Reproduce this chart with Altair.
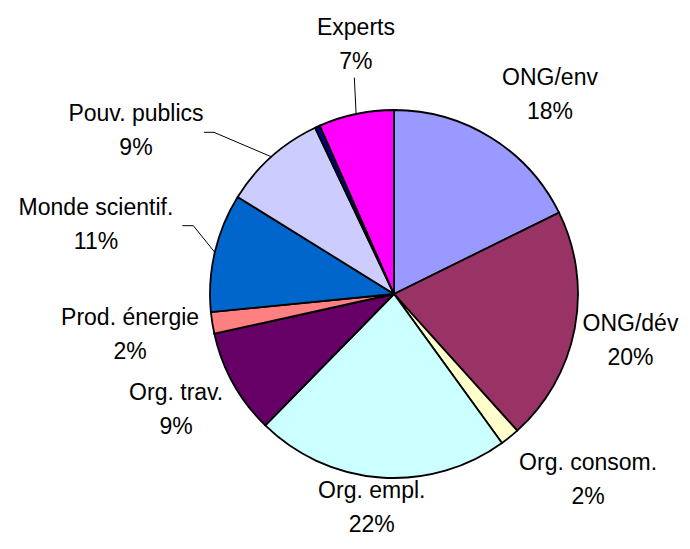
import altair as alt
import pandas as pd

# ---- data ----
categories = ["ONG/env", "ONG/dév", "Org. consom.", "Org. empl.", "Org. trav.",
              "Prod. énergie", "Monde scientif.", "Pouv. publics", "Autres", "Experts"]
shares = [17.7, 20.6, 1.7, 22.3, 9.2, 1.9, 10.4, 9.1, 0.45, 6.6]
pct_labels = ["18%", "20%", "2%", "22%", "9%", "2%", "11%", "9%", "", "7%"]

# ---- style / layout (not data) ----
colors = ["#9999FF", "#993366", "#FFFFCC", "#CCFFFF", "#660066",
          "#FF8080", "#0066CC", "#CCCCFF", "#000080", "#FF00FF"]
label_r = [253, 241, 269, 215, 247, 267, 306, 305, 0, 252]        # label distance from centre
label_nudge = [6.2, 0.3, -7.2, 1.7, 0.9, 0.3, 0.0, -16.0, 0.0, 3.2]  # degrees
leader_r = [0, 0, 0, 0, 0, 0, 212, 242, 0, 220]
leader_nudge = [0, 0, 0, 0, 0, 0, 5.7, -6.3, 0, 1.5]
leader_tick = [0, 0, 0, 0, 0, 0, -11, -10, 0, 0]

CX, CY, R = 386, 286, 184

df = pd.DataFrame({
    "idx": list(range(len(categories))),
    "cat": categories,
    "share": shares,
    "label": [c + "\n" + p if p else "" for c, p in zip(categories, pct_labels)],
    "lr": label_r, "ln": label_nudge,
    "er": leader_r, "en": leader_nudge, "tick": leader_tick,
})

base = alt.Chart(df)

pie = base.mark_arc(radius=R, stroke="black", strokeWidth=1.8).encode(
    theta=alt.Theta("share:Q", stack=True),
    color=alt.Color("cat:N", scale=alt.Scale(domain=categories, range=colors), legend=None),
    order=alt.Order("idx:Q"),
    x=alt.value(CX), y=alt.value(CY),
)

geo = (base
       .transform_window(cum="sum(share)", sort=[alt.SortField("idx")], frame=[None, 0])
       .transform_joinaggregate(total="sum(share)")
       .transform_calculate(mid="(datum.cum - datum.share/2) / datum.total * 2 * PI"))

labels = (geo
          .transform_filter("datum.lr > 0")
          .transform_calculate(la="datum.mid + datum.ln * PI / 180")
          .transform_calculate(lx=f"{CX} + datum.lr * sin(datum.la)",
                               ly=f"{CY} - datum.lr * cos(datum.la)")
          .mark_text(font="Liberation Sans", fontSize=23, lineBreak="\n", lineHeight=34,
                     align="center", baseline="middle", color="black", dy=-17)
          .encode(x=alt.X("lx:Q", scale=None, axis=None),
                  y=alt.Y("ly:Q", scale=None, axis=None),
                  text="label:N"))

lead = (geo
        .transform_filter("datum.er > 0")
        .transform_calculate(ba="datum.mid + datum.en * PI / 180")
        .transform_calculate(ex=f"{CX} + {R} * sin(datum.mid)",
                             ey=f"{CY} - {R} * cos(datum.mid)",
                             bx=f"{CX} + datum.er * sin(datum.ba)",
                             by=f"{CY} - datum.er * cos(datum.ba)")
        .transform_calculate(tx="datum.bx + datum.tick"))

lead1 = lead.mark_rule(color="black", strokeWidth=1).encode(
    x=alt.X("ex:Q", scale=None, axis=None), y=alt.Y("ey:Q", scale=None, axis=None),
    x2="bx:Q", y2="by:Q")
lead2 = lead.transform_filter("datum.tick != 0").mark_rule(color="black", strokeWidth=1).encode(
    x=alt.X("bx:Q", scale=None, axis=None), y=alt.Y("by:Q", scale=None, axis=None),
    x2="tx:Q", y2="by:Q")

chart = (alt.layer(lead1, lead2, pie, labels)
         .properties(width=674, height=533, padding=0,
                     autosize=alt.AutoSizeParams(type="none"))
         .configure_view(stroke=None))

chart.save("out.html", embed_options={"renderer": "svg", "actions": False})
